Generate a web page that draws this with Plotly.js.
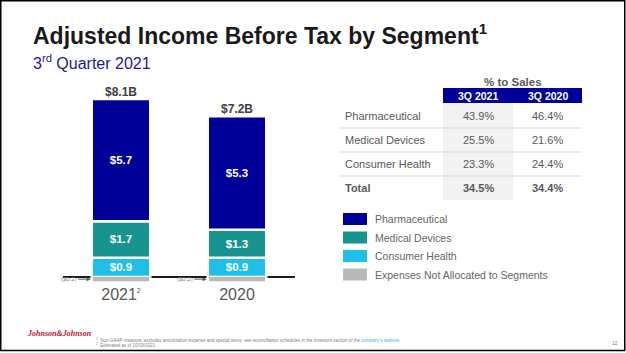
<!DOCTYPE html>
<html>
<head>
<meta charset="utf-8">
<script src="https://cdn.plot.ly/plotly-3.0.1.min.js"></script>
<style>html,body{margin:0;padding:0;background:#fff;}#chart{width:626px;height:353px;}</style>
</head>
<body>
<div id="chart"></div>
<script>
// ---- Data ----
const years = ['2021', '2020'];
const yearLabels = ['2021<sup><span style="font-size:7px">2</span></sup>', '2020'];
const pharma = [5.7, 5.3];
const medDevices = [1.7, 1.3];
const consumer = [0.9, 0.9];
const unallocated = [-0.2, -0.2];
const totalLabels = ['$8.1B', '$7.2B'];

const segmentNames = ['Pharmaceutical', 'Medical Devices', 'Consumer Health', 'Expenses Not Allocated to Segments'];
const segmentColors = ['#000099', '#17948F', '#1FBFE8', '#B9B9B9'];

const tableTitle = '% to Sales';
const tableCols = ['3Q 2021', '3Q 2020'];
const tableRows = ['Pharmaceutical', 'Medical Devices', 'Consumer Health', 'Total'];
const pct2021 = [43.9, 25.5, 23.3, 34.5];
const pct2020 = [46.4, 21.6, 24.4, 34.4];

const titleText = 'Adjusted Income Before Tax by Segment<sup><span style="font-size:15px">1</span></sup>';
const subtitleText = '3<sup>rd</sup> Quarter 2021';
const footnotes = [
  '<sup>1</sup>  Non-GAAP measure; excludes amortization expense and special items; see reconciliation schedules in the Investors section of the <span style="color:#3FB4E6">company\'s website</span>',
  '<sup>2</sup>  Estimated as of 10/19/2021'
];
const pageNumber = '12';
const logoText = 'Johnson&amp;Johnson';

// ---- Layout helpers ----
const L = 63, T = 90, W = 232, H = 193;
const px = x => (x - L) / W;
const py = y => 1 - (y - T) / H;
const FONT = 'Liberation Sans, Arial, sans-serif';

const series = [pharma, medDevices, consumer, unallocated];
// draw order bottom-up for relative stacking
const order = [2, 1, 0, 3];
const traces = order.map(k => {
  const t = {
    type: 'bar',
    name: segmentNames[k],
    x: years,
    y: series[k],
    width: k === 3 ? 0.483 : 0.504,
    marker: {color: segmentColors[k], line: {color: '#ffffff', width: k === 3 ? 0 : 2.5}},
    hoverinfo: 'skip',
    showlegend: false
  };
  if (k !== 3) {
    t.texttemplate = '$%{y:.1f}';
    t.textposition = 'inside';
    t.insidetextanchor = 'middle';
    t.constraintext = 'none';
    t.textfont = {color: '#ffffff', size: 11.5, family: FONT, weight: 'bold'};
  } else {
    t.textposition = 'none';
  }
  return t;
});

const annotations = [];
const shapes = [];
function note(x, y, text, font, xa) {
  annotations.push({xref: 'paper', yref: 'paper', x: px(x), y: py(y), xanchor: xa || 'center', yanchor: 'middle',
    text: text, showarrow: false, font: font});
}

// titles
note(31, 35, '<b>' + titleText + '</b>', {family: FONT, size: 23, color: '#1a1a1a'}, 'left');
note(31, 62, subtitleText, {family: FONT, size: 16, color: '#1C1C96'}, 'left');

// totals above bars and unallocated labels
years.forEach((yr, i) => {
  const pos = pharma[i] + medDevices[i] + consumer[i];
  annotations.push({xref: 'x', yref: 'y', x: i, y: pos, xanchor: 'center', yanchor: 'bottom', yshift: -2,
    text: '<b>' + totalLabels[i] + '</b>', showarrow: false, font: {family: FONT, size: 12, color: '#404040'}});
  annotations.push({xref: 'x', yref: 'y', x: i - 0.262, y: unallocated[i] / 2, ax: -22, ay: 0,
    text: '($' + Math.abs(unallocated[i]).toFixed(1) + ')', showarrow: true, arrowhead: 2, arrowsize: 0.8,
    arrowwidth: 1, arrowcolor: '#595959', font: {family: FONT, size: 6, color: '#808080'}});
});

// table
const colX0 = 443, colMid = 513, colX1 = 582;
shapes.push({type: 'rect', xref: 'paper', yref: 'paper', x0: px(colX0), x1: px(colMid), y0: py(200), y1: py(103),
  fillcolor: '#F2F2F2', line: {width: 0}, layer: 'below'});
shapes.push({type: 'rect', xref: 'paper', yref: 'paper', x0: px(colX0), x1: px(colX1), y0: py(103), y1: py(88),
  fillcolor: '#000099', line: {width: 0}});
note((colX0 + colX1) / 2, 81.5, '<b>' + tableTitle + '</b>', {family: FONT, size: 11.5, color: '#595959'});
const colCenters = [(colX0 + colMid) / 2, (colMid + colX1) / 2];
tableCols.forEach((c, j) => {
  note(colCenters[j], 95.5, '<b>' + c + '</b>', {family: FONT, size: 10.5, color: '#ffffff'});
});
const rowY = [116, 140, 164, 188];
tableRows.forEach((r, i) => {
  const bold = i === tableRows.length - 1;
  const wrap = s => bold ? '<b>' + s + '</b>' : s;
  note(343, rowY[i], wrap(r), {family: FONT, size: 11, color: '#595959'}, 'left');
  [pct2021[i], pct2020[i]].forEach((v, j) => {
    note(colCenters[j], rowY[i], wrap(v.toFixed(1) + '%'), {family: FONT, size: 11, color: '#595959'});
  });
  if (i < tableRows.length - 1) {
    shapes.push({type: 'line', xref: 'paper', yref: 'paper', x0: px(339), x1: px(582),
      y0: py(rowY[i] + 12), y1: py(rowY[i] + 12), line: {color: '#D9D9D9', width: 1}});
  }
});

// legend
const legY = [219, 237.5, 256, 274.5];
segmentNames.forEach((n, k) => {
  shapes.push({type: 'rect', xref: 'paper', yref: 'paper', x0: px(343), x1: px(367), y0: py(legY[k] + 6), y1: py(legY[k] - 6),
    fillcolor: segmentColors[k], line: {width: 0}});
  note(373, legY[k], n, {family: FONT, size: 10.5, color: '#666666'}, 'left');
});

// footer
note(59, 333, '<b><i>' + logoText + '</i></b>', {family: 'Liberation Serif, serif', size: 8, color: '#C8102E'});
footnotes.forEach((f, i) => {
  note(94, 339.5 + i * 5, f, {family: FONT, size: 4.5, color: '#808080'}, 'left');
});
note(615, 343, pageNumber, {family: FONT, size: 5, color: '#808080'});

// border
shapes.push({type: 'rect', xref: 'paper', yref: 'paper', x0: px(0.75), x1: px(624.75), y0: py(350.5), y1: py(0.75),
  line: {color: '#000000', width: 1.5}, fillcolor: 'rgba(0,0,0,0)'});

const layout = {
  width: 626, height: 353,
  margin: {l: L, r: 626 - L - W, t: T, b: 353 - T - H, pad: 0},
  paper_bgcolor: '#ffffff', plot_bgcolor: '#ffffff',
  barmode: 'relative',
  showlegend: false,
  font: {family: FONT},
  xaxis: {type: 'category', categoryorder: 'array', categoryarray: years, tickvals: years, ticktext: yearLabels,
    range: [-0.5, 1.5], showgrid: false, showline: false, zeroline: false, ticks: '',
    tickfont: {family: FONT, size: 16, color: '#595959'}, fixedrange: true},
  yaxis: {range: [-6 / 21.45, 187 / 21.45], showgrid: false, showline: false, showticklabels: false, ticks: '',
    zeroline: true, zerolinecolor: '#1a1a1a', zerolinewidth: 1.3, fixedrange: true},
  annotations: annotations,
  shapes: shapes
};

Plotly.newPlot('chart', traces, layout, {displayModeBar: false, staticPlot: true});
</script>
</body>
</html>
